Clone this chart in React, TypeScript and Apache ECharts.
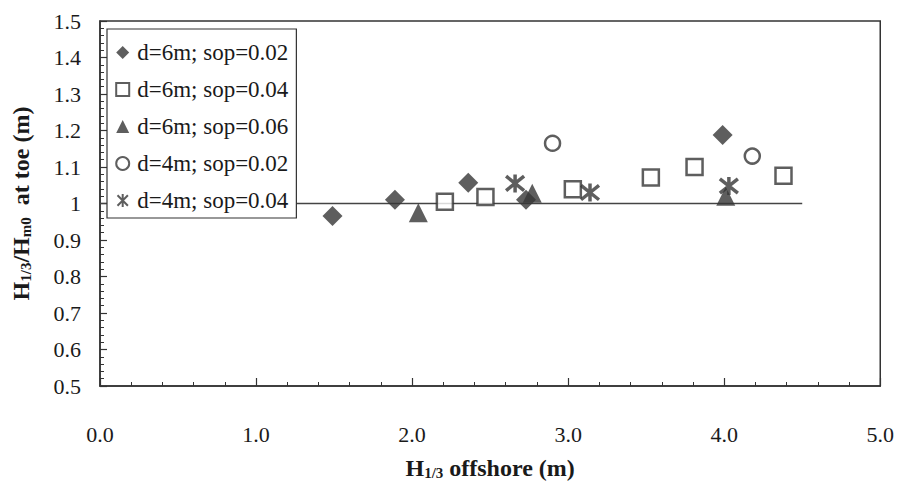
import React, { useEffect, useRef } from "react";
import * as echarts from "echarts";

const xTicks = { min: 0, max: 5, interval: 1 };
const yTicks = { min: 0.5, max: 1.5, interval: 0.1 };

const seriesNames = [
  "d=6m; sop=0.02",
  "d=6m; sop=0.04",
  "d=6m; sop=0.06",
  "d=4m; sop=0.02",
  "d=4m; sop=0.04",
];

const d6s02 = [[1.49, 0.966], [1.89, 1.01], [2.36, 1.057], [2.73, 1.01], [3.99, 1.188]];
const d6s04 = [[2.21, 1.005], [2.47, 1.018], [3.03, 1.039], [3.53, 1.071], [3.81, 1.1], [4.38, 1.076]];
const d6s06 = [[2.04, 0.975], [2.77, 1.028], [4.01, 1.02]];
const d4s02 = [[2.9, 1.165], [4.18, 1.13]];
const d4s04 = [[2.66, 1.055], [3.14, 1.03], [4.03, 1.048]];
const refLine = [[0, 1], [4.5, 1]];

const FONT = "'Liberation Serif', 'Times New Roman', serif";
const INK = "#1a1a1a";
const MARK = "#363636";

export default function App() {
  const ref = useRef<HTMLDivElement>(null);
  useEffect(() => {
    if (!ref.current) return;
    const chart = echarts.init(ref.current, null, { renderer: "svg" });
    const rich = {
      b: { fontSize: 24, fontWeight: "bold", fontFamily: FONT, color: INK, verticalAlign: "bottom", lineHeight: 28 },
      s: { fontSize: 15, fontWeight: "bold", fontFamily: FONT, color: INK, verticalAlign: "bottom", lineHeight: 9 },
    };
    chart.setOption({
      animation: false,
      backgroundColor: "#fff",
      grid: {
        left: 100,
        top: 21,
        right: 15,
        bottom: 100,
        show: true,
        borderColor: "#333",
        borderWidth: 1.5,
        backgroundColor: "transparent",
      },
      legend: {
        data: seriesNames,
        orient: "vertical",
        left: 107,
        top: 29,
        padding: [12, 8, 6, 8],
        itemGap: 14,
        itemWidth: 13,
        itemHeight: 13,
        backgroundColor: "#fff",
        borderColor: "#333",
        borderWidth: 1.2,
        textStyle: { fontFamily: FONT, fontSize: 23, color: INK, lineHeight: 23, padding: [0, 0, 0, 3] },
      },
      xAxis: {
        type: "value",
        ...xTicks,
        name: "{b|H}{s|1/3}{b| offshore (m)}",
        nameLocation: "middle",
        nameGap: 66,
        nameTextStyle: { rich },
        axisLine: { lineStyle: { color: "#333", width: 1.5 } },
        axisTick: { inside: true, length: 8, lineStyle: { color: "#333", width: 1.2 } },
        minorTick: { show: true, splitNumber: 5, length: 4, lineStyle: { color: "#333", width: 1 } },
        splitLine: { show: false },
        axisLabel: {
          margin: 37,
          fontFamily: FONT,
          fontSize: 22,
          color: INK,
          formatter: (v: number) => v.toFixed(1),
        },
      },
      yAxis: {
        type: "value",
        ...yTicks,
        name: "{b|H}{s|1/3}{b|/H}{s|m0}{b|  at toe (m)}",
        nameLocation: "middle",
        nameRotate: 90,
        nameGap: 67,
        nameTextStyle: { rich },
        axisLine: { show: true, lineStyle: { color: "#333", width: 1.5 } },
        axisTick: { show: true, inside: true, length: 7, lineStyle: { color: "#333", width: 1.2 } },
        minorTick: { show: true, splitNumber: 5, length: 4, lineStyle: { color: "#333", width: 1 } },
        splitLine: { show: false },
        axisLabel: { margin: 19, fontFamily: FONT, fontSize: 22, color: INK },
      },
      series: [
        {
          type: "line",
          data: refLine,
          showSymbol: false,
          symbol: "none",
          lineStyle: { color: "#444", width: 1.5 },
          silent: true,
          z: 1,
        },
        {
          name: seriesNames[0],
          type: "scatter",
          data: d6s02,
          symbol: "diamond",
          symbolSize: 20,
          itemStyle: { color: MARK },
          z: 3,
        },
        {
          name: seriesNames[1],
          type: "scatter",
          data: d6s04,
          symbol: "rect",
          symbolSize: 16,
          itemStyle: { color: "#fff", borderColor: MARK, borderWidth: 2.5 },
          z: 3,
        },
        {
          name: seriesNames[2],
          type: "scatter",
          data: d6s06,
          symbol: "triangle",
          symbolSize: 19,
          itemStyle: { color: MARK },
          z: 3,
        },
        {
          name: seriesNames[3],
          type: "scatter",
          data: d4s02,
          symbol: "circle",
          symbolSize: 15,
          itemStyle: { color: "#fff", borderColor: MARK, borderWidth: 2.5 },
          z: 3,
        },
        {
          name: seriesNames[4],
          type: "scatter",
          data: d4s04,
          symbol: "path://M1,1L9,9M9,1L1,9M5,0L5,10",
          symbolSize: 18,
          itemStyle: { color: "none", borderColor: MARK, borderWidth: 3.5 },
          z: 3,
        },
      ],
    });
    return () => chart.dispose();
  }, []);
  return (
    <div
      ref={ref}
      style={{ position: "fixed", left: 0, top: 0, width: 897, height: 486, background: "#fff" }}
    />
  );
}
